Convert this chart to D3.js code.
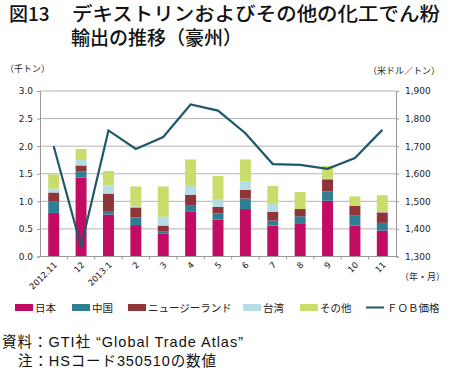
<!DOCTYPE html>
<html><head><meta charset="utf-8">
<script src="https://cdn.jsdelivr.net/npm/d3@7"></script>
<style>body{margin:0;background:#fff}svg{display:block;font-family:"Noto Sans CJK JP","Noto Sans",sans-serif}</style>
</head><body><svg id="c" width="450" height="370"></svg>
<script>
const categories = ["2012.11","12","2013.1","2","3","4","5","6","7","8","9","10","11"];
const japan  = [0.79,1.43,0.76,0.57,0.42,0.82,0.67,0.86,0.56,0.59,1.01,0.56,0.47];
const china  = [0.21,0.11,0.05,0.14,0.03,0.10,0.11,0.19,0.09,0.14,0.17,0.18,0.14];
const nz     = [0.16,0.11,0.33,0.18,0.11,0.20,0.12,0.16,0.16,0.13,0.22,0.18,0.19];
const taiwan = [0.07,0.10,0.15,0.02,0.16,0.16,0.14,0.15,0.14,0.00,0.01,0.00,0.01];
const others = [0.26,0.20,0.26,0.36,0.55,0.48,0.42,0.40,0.33,0.31,0.23,0.17,0.30];
const fob    = [1700,1336,1757,1690,1733,1851,1829,1747,1635,1632,1618,1657,1759];
const leftTicks = [0,0.5,1.0,1.5,2.0,2.5,3.0];
const rightTicks = [1300,1400,1500,1600,1700,1800,1900];
const seriesNames = ["日本","中国","ニュージーランド","台湾","その他"];
const colors = ["#c20b62","#2e7f93","#8f3437","#b5dde5","#c9dd6d"];
const lineColor = "#1f5868";

const svg = d3.select("#c");
const L = 40, R = 396, T = 91, B = 256.5;
const x = d3.scaleBand().domain(categories).range([L, R]).paddingInner(0.6).paddingOuter(0.3);
const xb = d3.scaleBand().domain(categories).range([L, R]);
const y = d3.scaleLinear().domain([0,3]).range([B, T]);
const y2 = d3.scaleLinear().domain([1300,1900]).range([B, T]);

// grid
svg.append("g").selectAll("line").data(leftTicks.slice(1)).join("line")
  .attr("x1", L).attr("x2", R).attr("y1", d=>y(d)).attr("y2", d=>y(d))
  .attr("stroke", "#b4b4b4").attr("stroke-width", 1);

// left axis
const ax = svg.append("g").attr("transform", `translate(${L},0)`)
  .call(d3.axisLeft(y).tickValues(leftTicks).tickFormat(d3.format(".1f")).tickSize(3));
ax.select(".domain").attr("stroke", "#999");
ax.selectAll(".tick line").attr("stroke", "#999");
ax.selectAll("text").attr("font-size", 9).attr("fill", "#222").attr("font-family", "Verdana, DejaVu Sans, sans-serif").attr("dx", -1);

// right axis
const ar = svg.append("g").attr("transform", `translate(${R},0)`)
  .call(d3.axisRight(y2).tickValues(rightTicks).tickFormat(d3.format(",")).tickSize(3));
ar.select(".domain").attr("stroke", "#999");
ar.selectAll(".tick line").attr("stroke", "#999");
ar.selectAll("text").attr("font-size", 9).attr("fill", "#222").attr("font-family", "Verdana, DejaVu Sans, sans-serif").attr("dx", 3);

// bars
const rows = categories.map((c,i)=>({cat:c, s0:japan[i], s1:china[i], s2:nz[i], s3:taiwan[i], s4:others[i]}));
const stack = d3.stack().keys(["s0","s1","s2","s3","s4"])(rows);
svg.append("g").selectAll("g").data(stack).join("g").attr("fill", (d,i)=>colors[i])
  .selectAll("rect").data(d=>d).join("rect")
  .attr("x", d=>x(d.data.cat)).attr("width", x.bandwidth())
  .attr("y", d=>y(d[1])).attr("height", d=>Math.max(0, y(d[0])-y(d[1])));

// bottom axis
const ab = svg.append("g").attr("transform", `translate(0,${B})`);
ab.append("line").attr("x1", L).attr("x2", R).attr("stroke", "#999");
ab.selectAll(".tk").data(categories.slice(1)).join("line").attr("class","tk")
  .attr("x1", d=>xb(d)).attr("x2", d=>xb(d)).attr("y1", 0).attr("y2", 3).attr("stroke", "#999");
ab.selectAll("text").data(categories).join("text")
  .attr("transform", d=>`translate(${xb(d)+xb.bandwidth()/2+4},${9}) rotate(-45)`)
  .attr("text-anchor", "end").attr("font-size", 8.5).attr("fill", "#111")
  .attr("font-family", "Verdana, DejaVu Sans, sans-serif")
  .text(d=>d);

// line
const line = d3.line().x((d,i)=>xb(categories[i])+xb.bandwidth()/2).y(d=>y2(d));
svg.append("path").datum(fob).attr("d", line).attr("fill","none")
  .attr("stroke", lineColor).attr("stroke-width", 2.2);

// unit labels
svg.append("text").attr("x", 5).attr("y", 72).attr("font-size", 9).attr("fill","#222").text("（千トン）");
svg.append("text").attr("x", 368).attr("y", 74).attr("font-size", 9).attr("fill","#222").text("（米ドル／トン）");
svg.append("text").attr("x", 400).attr("y", 280).attr("font-size", 9).attr("fill","#222").text("（年・月）");

// title
const tt = svg.append("g").attr("font-size", 19).attr("fill","#111").attr("font-weight", 500);
tt.append("text").attr("x", 9).attr("y", 21).text("図13");
tt.append("text").attr("x", 72).attr("y", 21)
  .attr("textLength", 368).attr("lengthAdjust","spacingAndGlyphs").text("デキストリンおよびその他の化工でん粉");
tt.append("text").attr("x", 71).attr("y", 45).text("輸出の推移（豪州）");

// legend
const lg = svg.append("g").attr("font-size", 10.5).attr("fill","#222");
const lx = [15, 72, 128, 243, 300];
seriesNames.forEach((n,i)=>{
  lg.append("rect").attr("x", lx[i]).attr("y", 304).attr("width", 18).attr("height", 7).attr("fill", colors[i]);
  lg.append("text").attr("x", lx[i]+20).attr("y", 312).text(n);
});
lg.append("line").attr("x1", 366).attr("x2", 384).attr("y1", 307.5).attr("y2", 307.5).attr("stroke", lineColor).attr("stroke-width", 2);
lg.append("text").attr("x", 387).attr("y", 312).text("ＦＯＢ価格");

// source
const src = svg.append("g").attr("font-size", 14.5).attr("fill","#111")
  .attr("font-family", "'Liberation Sans', 'Noto Sans CJK JP', sans-serif");
src.append("text").attr("x", 2).attr("y", 347).attr("textLength", 241).attr("lengthAdjust","spacing").text("資料：GTI社 “Global Trade Atlas”");
src.append("text").attr("x", 18).attr("y", 366).attr("textLength", 198).attr("lengthAdjust","spacing").text("注：HSコード350510の数値");
</script></body></html>
